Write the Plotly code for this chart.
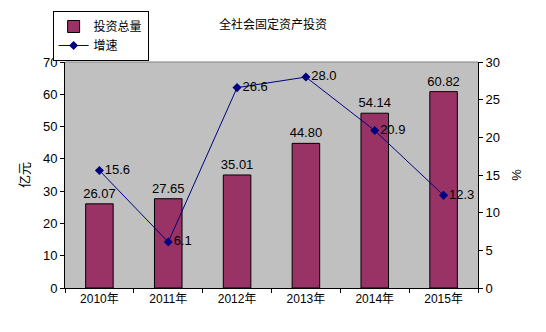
import plotly.graph_objects as go

years = ["2010年", "2011年", "2012年", "2013年", "2014年", "2015年"]
invest = [26.07, 27.65, 35.01, 44.80, 54.14, 60.82]
growth = [15.6, 6.1, 26.6, 28.0, 20.9, 12.3]

FONT = "Liberation Sans, Arial, Noto Sans CJK SC, sans-serif"

fig = go.Figure()
fig.add_trace(go.Bar(
    x=years, y=invest, name="投资总量",
    marker=dict(color="#993366", line=dict(color="black", width=1)),
    width=0.4,
    text=[f"{v:.2f}" for v in invest], textposition="outside",
    constraintext="none",
    textfont=dict(size=13, color="black"),
    outsidetextfont=dict(size=13, color="black"), cliponaxis=False,
))
fig.add_trace(go.Scatter(
    x=years, y=growth, name="增速", yaxis="y2",
    mode="lines+markers+text",
    line=dict(color="#000080", width=1),
    marker=dict(symbol="diamond", size=7, color="#000080"),
    text=[f"{v:.1f}" for v in growth], textposition="middle right",
    textfont=dict(size=13, color="black"), cliponaxis=False,
))

fig.update_layout(
    width=546, height=332,
    margin=dict(l=65, r=68, t=61, b=44),
    paper_bgcolor="white", plot_bgcolor="#C0C0C0",
    font=dict(family=FONT, size=13, color="black"),
    showlegend=True,
    legend=dict(x=-0.03, y=(288 - 11) / 227, xanchor="left", yanchor="top",
                bordercolor="black", borderwidth=1, bgcolor="white",
                font=dict(size=12), tracegroupgap=0, itemwidth=30),
    bargap=0.6,
    xaxis=dict(type="category", showline=True, linecolor="black", linewidth=1,
               ticks="outside", tickson="boundaries", ticklen=4, tickcolor="black",
               showgrid=False, tickfont=dict(size=12)),
    yaxis=dict(range=[0, 70], dtick=10, showline=True, linecolor="black", linewidth=1,
               ticks="outside", ticklen=4, tickcolor="black", showgrid=False,
               zeroline=False,
               title=dict(text="亿元", font=dict(size=13), standoff=10)),
    yaxis2=dict(range=[0, 30], dtick=5, overlaying="y", side="right",
                showline=True, linecolor="black", linewidth=1,
                ticks="outside", ticklen=4, tickcolor="black", showgrid=False,
                zeroline=False,
                title=dict(text="%", font=dict(size=13), standoff=12)),
    shapes=[dict(type="line", xref="paper", yref="paper", x0=0, x1=1, y0=1, y1=1,
                 line=dict(color="#808080", width=1))],
    annotations=[dict(text="全社会固定资产投资", xref="paper", yref="paper",
                      x=(273 - 65) / 413, y=(288 - 23) / 227,
                      xanchor="center", yanchor="middle",
                      showarrow=False, font=dict(size=12))],
)
fig.write_html("out.html")
